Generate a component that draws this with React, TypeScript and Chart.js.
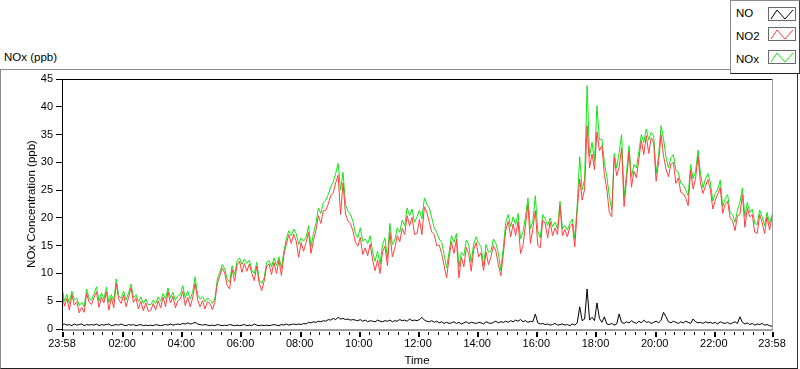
import React, { useEffect, useRef } from 'react';
import { Chart, registerables } from 'chart.js';

Chart.register(...registerables);

// ---- data (5-minute samples starting 23:58) ----
const STEP_MINUTES = 5;
const X_TICK_MINUTES = [0, 122, 242, 362, 482, 602, 722, 842, 962, 1082, 1202, 1322, 1440];
const X_TICK_LABELS = ['23:58', '02:00', '04:00', '06:00', '08:00', '10:00', '12:00', '14:00', '16:00', '18:00', '20:00', '22:00', '23:58'];
const Y_MIN = 0;
const Y_MAX = 45;
const Y_STEP = 5;
const SERIES_NAMES = ['NO', 'NO2', 'NOx'];

const NOX = [
  7.5, 5.0, 6.2, 4.6, 6.8, 5.2, 5.6, 4.2, 4.8, 4.0, 7.2, 5.5,
  5.2, 6.4, 7.6, 5.0, 6.5, 5.4, 7.5, 4.8, 6.2, 5.0, 9.0, 6.0,
  5.5, 6.8, 5.2, 6.5, 8.1, 5.6, 6.2, 4.9, 5.8, 4.6, 5.4, 4.4,
  4.4, 5.2, 4.6, 5.8, 5.0, 6.4, 5.4, 7.4, 5.6, 6.6, 5.2, 6.0,
  6.2, 7.8, 5.6, 6.8, 5.4, 6.6, 9.4, 6.2, 5.4, 5.8, 4.9, 5.6,
  5.2, 4.6, 5.4, 9.0, 10.2, 11.6, 10.8, 9.0, 8.4, 11.4, 9.8, 12.2,
  12.8, 11.6, 12.6, 11.8, 12.4, 10.6, 10.0, 12.0, 8.8, 8.2, 9.2, 12.0,
  12.3, 11.2, 12.8, 11.4, 13.0, 11.0, 14.0, 16.2, 17.7, 16.8, 18.0, 17.2,
  15.2, 16.4, 15.8, 16.5, 18.6, 14.8, 17.2, 19.0, 21.8, 20.8, 22.8, 23.2,
  24.2, 25.6, 26.4, 28.0, 29.8, 25.0, 28.2, 22.4, 21.2, 20.6, 19.4, 17.2,
  16.4, 18.2, 15.8, 16.2, 15.4, 16.8, 13.8, 12.2, 14.0, 11.6, 15.2, 16.4,
  12.8, 19.0, 15.2, 16.0, 18.2, 17.4, 19.6, 18.6, 21.8, 20.4, 21.6, 19.2,
  20.2, 21.4, 19.8, 23.6, 22.4, 21.8, 20.0, 18.2, 17.4, 16.2, 15.6, 13.4,
  11.0, 13.8, 16.8, 15.6, 17.2, 11.2, 13.8, 13.2, 16.0, 15.2, 12.0, 15.4,
  16.6, 15.4, 14.8, 11.4, 15.2, 13.8, 14.0, 16.2, 15.4, 13.6, 10.6, 14.6,
  19.2, 20.6, 18.4, 20.2, 18.8, 20.8, 16.2, 17.4, 20.2, 23.6, 18.0, 19.4,
  24.0, 17.6, 16.4, 20.6, 19.8, 18.6, 20.0, 18.4, 19.2, 18.0, 23.0, 18.0,
  18.6, 17.8, 19.0, 19.8, 16.2, 22.4, 31.0, 25.0, 27.0, 43.8, 31.0, 33.6,
  30.2, 40.2, 34.0, 34.2, 30.0, 27.4, 24.0, 21.4, 31.6, 29.0, 31.8, 35.0,
  23.6, 28.2, 33.0, 27.4, 29.6, 29.0, 32.0, 35.0, 33.6, 36.0, 34.0, 35.4,
  34.8, 28.0, 31.2, 36.6, 34.2, 31.0, 29.0, 30.8, 31.4, 28.6, 28.2, 26.2,
  26.0, 25.0, 24.0, 29.6, 27.0, 28.4, 32.2, 28.0, 25.4, 27.0, 28.0, 26.4,
  23.0, 24.4, 25.2, 26.8, 22.0, 23.4, 24.2, 21.0, 20.6, 19.2, 21.4, 22.8,
  25.4, 20.2, 22.8, 21.0, 21.6, 19.0, 18.8, 21.4, 20.2, 18.6, 21.0, 19.0, 20.6,
];

const NO2 = [
  6.7, 4.1, 5.5, 3.4, 6.2, 4.3, 4.9, 2.9, 3.9, 3.0, 6.4, 4.8,
  4.4, 5.7, 6.7, 3.9, 5.7, 4.7, 6.7, 3.4, 5.6, 3.8, 8.2, 5.3,
  4.6, 6.1, 4.0, 5.7, 7.4, 4.8, 5.6, 3.6, 5.0, 3.3, 4.7, 3.2,
  3.3, 4.6, 3.4, 5.1, 3.8, 5.7, 4.0, 6.7, 4.7, 5.9, 3.8, 5.1,
  5.4, 6.8, 4.2, 5.7, 4.0, 5.6, 8.2, 5.3, 4.0, 5.1, 3.6, 4.9,
  4.6, 3.5, 4.8, 8.2, 9.5, 11.0, 10.1, 7.8, 7.2, 10.7, 8.6, 11.5,
  12.2, 10.2, 11.8, 10.4, 11.7, 10.0, 8.7, 11.3, 8.2, 6.9, 8.6, 11.3,
  11.7, 9.8, 12.0, 10.0, 12.4, 9.6, 13.3, 15.3, 17.0, 15.4, 17.1, 15.8,
  12.9, 15.6, 14.0, 15.6, 17.4, 13.6, 15.9, 17.8, 20.4, 19.0, 21.3, 21.4,
  22.5, 24.0, 24.5, 26.3, 27.7, 20.6, 26.3, 20.7, 19.4, 19.0, 17.7, 15.6,
  14.9, 16.5, 13.4, 14.6, 13.2, 15.3, 12.4, 10.5, 12.4, 10.0, 13.9, 14.9,
  11.4, 17.4, 13.0, 14.5, 16.8, 15.7, 18.1, 17.0, 20.4, 18.6, 20.1, 17.0,
  17.2, 19.7, 17.0, 22.0, 21.0, 19.2, 17.4, 17.0, 15.0, 15.1, 13.6, 11.4,
  9.2, 12.8, 15.7, 13.6, 16.2, 9.2, 12.9, 11.2, 14.7, 13.4, 10.4, 14.3,
  15.6, 13.0, 13.7, 10.5, 13.9, 11.6, 13.0, 15.0, 14.0, 11.6, 9.6, 13.4,
  17.8, 19.4, 16.6, 18.9, 16.8, 19.4, 13.6, 15.0, 18.7, 22.4, 15.4, 18.1,
  21.3, 15.0, 14.6, 19.6, 19.0, 16.4, 19.3, 16.8, 18.2, 17.0, 22.2, 16.8,
  17.9, 16.6, 18.4, 18.9, 14.8, 21.3, 27.0, 23.2, 25.2, 36.6, 29.0, 31.5,
  28.7, 35.5, 32.1, 33.0, 27.8, 25.2, 21.0, 20.2, 30.9, 27.6, 29.1, 32.6,
  22.0, 26.9, 31.9, 25.5, 28.4, 27.2, 30.6, 33.9, 31.4, 34.8, 31.6, 34.4,
  33.6, 26.6, 30.1, 35.0, 31.2, 28.8, 27.4, 29.7, 30.0, 26.2, 27.2, 24.6,
  24.4, 23.6, 22.2, 28.6, 25.2, 27.1, 31.1, 26.2, 24.4, 25.7, 26.9, 25.0,
  21.6, 23.2, 24.3, 25.5, 20.8, 22.4, 23.0, 20.0, 19.5, 17.7, 20.4, 20.6,
  24.2, 18.3, 21.7, 20.2, 20.6, 17.4, 17.2, 20.6, 19.2, 17.2, 20.2, 17.8, 20.1,
];

const NO = [
  0.8, 0.9, 0.7, 0.8, 0.6, 0.9, 0.7, 0.8, 0.9, 0.6, 0.8, 0.7,
  0.8, 0.7, 0.9, 0.6, 0.8, 0.7, 0.8, 0.9, 0.6, 0.7, 0.8, 0.7,
  0.9, 0.7, 0.6, 0.8, 0.7, 0.8, 0.6, 0.7, 0.8, 0.6, 0.7, 0.6,
  0.7, 0.6, 0.8, 0.7, 0.6, 0.7, 0.8, 0.7, 0.9, 0.7, 0.8, 0.9,
  0.8, 1.0, 0.9, 1.1, 0.9, 1.0, 1.2, 0.9, 0.8, 0.7, 0.8, 0.7,
  0.6, 0.7, 0.6, 0.8, 0.7, 0.6, 0.7, 0.6, 0.8, 0.7, 0.6, 0.7,
  0.6, 0.7, 0.8, 0.6, 0.7, 0.6, 0.9, 0.7, 0.6, 0.7, 0.6, 0.7,
  0.6, 0.7, 0.8, 0.7, 0.6, 0.8, 0.7, 0.9, 0.7, 0.8, 0.9, 0.8,
  0.9, 0.8, 1.0, 0.9, 1.2, 1.1, 1.3, 1.2, 1.4, 1.3, 1.5, 1.4,
  1.7, 1.6, 1.9, 1.7, 2.1, 1.8, 1.9, 1.7, 1.8, 1.6, 1.7, 1.6,
  1.5, 1.7, 1.4, 1.6, 1.3, 1.5, 1.4, 1.3, 1.6, 1.4, 1.3, 1.5,
  1.4, 1.6, 1.3, 1.5, 1.4, 1.7, 1.5, 1.6, 1.4, 1.8, 1.5, 1.6,
  1.5, 1.7, 2.1, 1.6, 1.4, 1.3, 1.5, 1.2, 1.4, 1.1, 1.3, 1.0,
  1.2, 1.0, 1.1, 1.3, 1.0, 1.2, 0.9, 1.1, 1.3, 1.0, 1.2, 1.1,
  1.0, 1.2, 1.1, 0.9, 1.3, 1.1, 1.0, 1.2, 1.4, 1.1, 1.3, 1.2,
  1.4, 1.2, 1.5, 1.3, 1.6, 1.4, 1.7, 1.3, 1.5, 1.2, 1.4, 1.3,
  2.7, 1.1, 0.9, 1.0, 0.8, 0.9, 0.7, 0.8, 1.0, 0.7, 0.8, 0.9,
  0.7, 0.8, 0.6, 0.9, 0.7, 1.1, 4.0, 1.5, 1.8, 7.2, 1.6, 2.1,
  1.5, 4.7, 1.9, 1.2, 2.2, 0.9, 0.8, 1.0, 0.7, 0.9, 2.7, 1.2,
  1.0, 1.3, 1.1, 1.5, 1.2, 1.0, 1.4, 1.1, 1.6, 1.2, 1.3, 1.0,
  1.2, 1.4, 1.1, 1.6, 3.0, 2.2, 1.3, 1.1, 1.4, 1.2, 1.0, 1.3,
  1.1, 1.4, 1.2, 1.0, 1.8, 1.3, 1.1, 1.2, 1.0, 1.3, 1.1, 1.2,
  1.0, 1.2, 0.9, 1.3, 1.1, 1.0, 1.2, 0.9, 1.1, 1.3, 1.0, 2.2,
  1.2, 0.9, 1.1, 0.8, 1.0, 0.7, 0.9, 0.8, 1.0, 0.7, 0.8, 0.6, 0.5,
];

const COLORS = { NO: '#000000', NO2: '#ff4040', NOx: '#14e614' };
const FONT_FAMILY = '"Liberation Sans", Arial, sans-serif';

const toPoints = (arr: number[]) => arr.map((y, i) => ({ x: i * STEP_MINUTES, y }));

const axisPlugin = {
  id: 'labviewAxes',
  afterDatasetsDraw(chart: any) {
    const { ctx, chartArea: a, scales } = chart;
    const xs = scales.x;
    ctx.save();
    // plot frame: dark top/left, gray bottom/right
    ctx.fillStyle = '#a0a0a0';
    ctx.fillRect(a.left, a.bottom, a.right - a.left + 1, 2);
    ctx.fillRect(a.right, a.top, 1, a.bottom - a.top);
    ctx.fillStyle = '#000000';
    ctx.fillRect(a.left, a.top, a.right - a.left, 1);
    ctx.fillRect(a.left, a.top, 1, a.bottom - a.top + 2);
    // major ticks
    for (const m of X_TICK_MINUTES) {
      const px = Math.round(xs.getPixelForValue(m));
      ctx.fillRect(px, a.bottom + 3, 2, 5);
    }
    // minor ticks every 20 minutes
    for (let m = 22; m < 1440; m += 20) {
      if (X_TICK_MINUTES.includes(m)) continue;
      const px = Math.round(xs.getPixelForValue(m));
      ctx.fillRect(px, a.bottom + 3, 1, 3);
    }
    ctx.restore();
  },
};

function Swatch({ color }: { color: string }) {
  return (
    <svg width={28} height={14} style={{ position: 'absolute', left: 0, top: 0 }}>
      <rect x={0.5} y={0.5} width={27} height={13} fill="#ffffff" stroke="#6a6a6a" />
      <polyline points="3,12 9,3 17,12 25,3" fill="none" stroke={color} strokeWidth={1} />
    </svg>
  );
}

export default function App() {
  const canvasRef = useRef<HTMLCanvasElement | null>(null);

  useEffect(() => {
    const canvas = canvasRef.current;
    if (!canvas) return;
    const font = { family: FONT_FAMILY, size: 11 };
    const titleFont = { family: FONT_FAMILY, size: 11.5 };
    const chart = new Chart(canvas, {
      type: 'line',
      data: {
        datasets: [
          { label: 'NOx', data: toPoints(NOX), borderColor: COLORS.NOx, borderWidth: 1, pointRadius: 0, order: 3 },
          { label: 'NO2', data: toPoints(NO2), borderColor: COLORS.NO2, borderWidth: 1, pointRadius: 0, order: 2 },
          { label: 'NO', data: toPoints(NO), borderColor: COLORS.NO, borderWidth: 1, pointRadius: 0, order: 1 },
        ],
      },
      options: {
        animation: false,
        responsive: false,
        events: [],
        layout: { padding: { top: 79, right: 28, left: 0, bottom: 0 } },
        plugins: { legend: { display: false }, tooltip: { enabled: false } },
        scales: {
          x: {
            type: 'linear',
            min: 0,
            max: 1440,
            afterBuildTicks: (s: any) => {
              s.ticks = X_TICK_MINUTES.map((v) => ({ value: v }));
            },
            afterFit: (s: any) => {
              s.height = 40;
            },
            grid: { display: false, drawTicks: false },
            border: { display: false },
            ticks: {
              autoSkip: false,
              maxRotation: 0,
              padding: 8,
              color: '#000000',
              font,
              callback: (_v: any, i: number) => X_TICK_LABELS[i],
            },
            title: { display: true, text: 'Time', color: '#000000', font: titleFont, padding: { top: 0, bottom: 1 } },
          },
          y: {
            min: Y_MIN,
            max: Y_MAX,
            afterFit: (s: any) => {
              s.width = 62;
            },
            grid: { drawOnChartArea: false, drawTicks: true, tickLength: 6, color: '#000000' },
            border: { display: false },
            ticks: { stepSize: Y_STEP, padding: 3, color: '#000000', font },
            title: {
              display: true,
              text: 'NOx Concentration (ppb)',
              color: '#000000',
              font: titleFont,
              padding: { top: 25, bottom: 0 },
            },
          },
        },
      },
      plugins: [axisPlugin],
    } as any);
    return () => chart.destroy();
  }, []);

  const textStyle: React.CSSProperties = {
    position: 'absolute',
    fontFamily: FONT_FAMILY,
    fontSize: '11.5px',
    lineHeight: '14px',
    color: '#000000',
    whiteSpace: 'nowrap',
  };

  const legendRows = [
    { name: SERIES_NAMES[0], color: COLORS.NO, textTop: 6, boxTop: 7 },
    { name: SERIES_NAMES[1], color: COLORS.NO2, textTop: 29, boxTop: 27 },
    { name: SERIES_NAMES[2], color: COLORS.NOx, textTop: 52, boxTop: 50 },
  ];

  return (
    <div style={{ position: 'absolute', left: 0, top: 0, width: 800, height: 369, background: '#ffffff', overflow: 'hidden' }}>
      {/* outer frame */}
      <div
        style={{
          position: 'absolute',
          left: 0,
          top: 69,
          width: 796,
          height: 298,
          borderTop: '1px solid #8a8a8a',
          borderLeft: '1px solid #8a8a8a',
          borderRight: '1px solid #303030',
          borderBottom: '1px solid #202020',
        }}
      />
      <div style={{ ...textStyle, left: 4, top: 50 }}>NOx (ppb)</div>
      <canvas ref={canvasRef} width={800} height={369} style={{ position: 'absolute', left: 0, top: 0, width: 800, height: 369 }} />
      {/* legend */}
      <div
        style={{
          position: 'absolute',
          left: 730,
          top: 0,
          width: 68,
          height: 72,
          background: '#ffffff',
          borderLeft: '1px solid #8a8a8a',
          borderTop: '1px solid #8a8a8a',
          borderRight: '1px solid #404040',
          borderBottom: '1px solid #202020',
        }}
      >
        {legendRows.map((r) => (
          <React.Fragment key={r.name}>
            <div style={{ ...textStyle, left: 5, top: r.textTop - 1 }}>{r.name}</div>
            <div style={{ position: 'absolute', left: 37, top: r.boxTop - 1, width: 28, height: 14 }}>
              <Swatch color={r.color} />
            </div>
          </React.Fragment>
        ))}
      </div>
    </div>
  );
}
